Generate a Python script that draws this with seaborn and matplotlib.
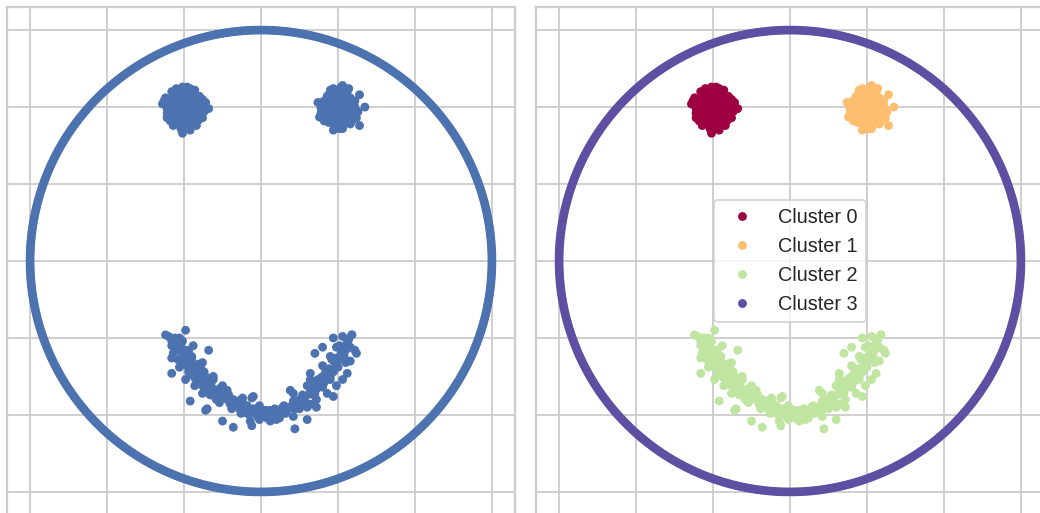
import numpy as np
import pandas as pd
import matplotlib
matplotlib.use("Agg")
import matplotlib.pyplot as plt
from matplotlib.lines import Line2D
import seaborn as sns

# ---- data -------------------------------------------------------------
# Face outline: evenly spaced points on a circle
RING_RADIUS = 1.5
RING_COUNT = 500

# Eyes (x, y)
left_eye = [
    (-0.51, 1.13), (-0.58, 1.10), (-0.46, 1.12), (-0.40, 1.07), (-0.36, 1.03),
    (-0.34, 0.99), (-0.38, 0.93), (-0.42, 0.88), (-0.46, 0.85), (-0.51, 0.83),
    (-0.57, 0.88), (-0.61, 0.93), (-0.64, 1.02), (-0.62, 1.06),
    (-0.50, 1.00), (-0.46, 1.02), (-0.54, 0.98), (-0.47, 0.96), (-0.53, 1.04),
    (-0.44, 0.98), (-0.56, 1.02), (-0.50, 1.06), (-0.50, 0.94), (-0.42, 1.04),
    (-0.58, 0.96), (-0.45, 1.08), (-0.55, 0.92), (-0.41, 0.95), (-0.59, 1.05),
    (-0.48, 0.90), (-0.52, 1.09), (-0.39, 1.00), (-0.61, 0.99), (-0.44, 0.91),
    (-0.56, 1.08), (-0.43, 1.06), (-0.57, 0.93), (-0.49, 1.03), (-0.51, 0.97),
    (-0.47, 1.10), (-0.53, 0.89), (-0.40, 1.01), (-0.60, 1.01), (-0.46, 0.93),
    (-0.48, 1.00), (-0.52, 1.01), (-0.49, 0.98), (-0.51, 1.02), (-0.55, 1.05),
    (-0.45, 0.95), (-0.54, 0.95), (-0.46, 1.05), (-0.42, 1.00), (-0.58, 1.00),
    (-0.50, 1.09), (-0.50, 0.91), (-0.43, 0.93), (-0.57, 1.07), (-0.44, 1.09),
    (-0.56, 0.90), (-0.39, 1.04), (-0.61, 0.96), (-0.53, 1.11), (-0.47, 0.87),
    (-0.41, 0.91), (-0.59, 0.91), (-0.55, 1.12), (-0.43, 1.11), (-0.49, 0.86),
    (-0.37, 0.97), (-0.63, 1.04), (-0.52, 0.86), (-0.48, 1.13), (-0.38, 1.05),
]
right_eye = [
    (0.53, 1.14), (0.48, 1.09), (0.44, 1.08), (0.58, 1.06), (0.64, 1.08),
    (0.675, 1.00), (0.64, 0.88), (0.58, 0.89), (0.47, 0.85), (0.53, 0.86),
    (0.38, 0.935), (0.40, 1.02), (0.42, 0.97), (0.62, 0.97),
    (0.50, 1.00), (0.54, 1.02), (0.46, 0.98), (0.53, 0.96), (0.47, 1.04),
    (0.56, 0.98), (0.44, 1.02), (0.50, 1.06), (0.50, 0.94), (0.58, 1.03),
    (0.42, 0.96), (0.55, 1.07), (0.45, 0.92), (0.59, 0.95), (0.41, 1.04),
    (0.52, 0.90), (0.48, 1.09), (0.61, 1.00), (0.39, 0.99), (0.56, 0.91),
    (0.44, 1.07), (0.57, 1.05), (0.43, 0.93), (0.51, 1.03), (0.49, 0.97),
    (0.53, 1.10), (0.47, 0.89), (0.60, 1.01), (0.40, 1.01), (0.54, 0.93),
    (0.52, 1.00), (0.48, 1.01), (0.51, 0.98), (0.49, 1.02), (0.45, 1.05),
    (0.55, 0.95), (0.46, 0.95), (0.54, 1.05), (0.58, 1.00), (0.42, 1.00),
    (0.50, 1.10), (0.50, 0.91), (0.57, 0.93), (0.43, 1.07), (0.56, 1.10),
    (0.44, 0.90), (0.61, 1.04), (0.39, 0.96), (0.47, 1.12), (0.53, 0.87),
    (0.59, 0.91), (0.41, 0.91), (0.45, 1.11), (0.57, 1.12), (0.51, 0.86),
    (0.63, 0.97), (0.37, 1.03), (0.48, 0.86), (0.52, 1.13), (0.62, 0.93),
]

# Mouth (x, y)
mouth = [
    (-0.62, -0.48), (-0.58, -0.55), (-0.53, -0.50), (-0.49, -0.45), (-0.51, -0.52),
    (-0.56, -0.55), (-0.58, -0.63), (-0.58, -0.73), (-0.44, -0.55), (-0.47, -0.58),
    (-0.34, -0.58), (-0.51, -0.62), (-0.45, -0.63), (-0.48, -0.68), (-0.42, -0.68),
    (-0.53, -0.69), (-0.38, -0.66), (-0.45, -0.74), (-0.49, -0.77), (-0.41, -0.77),
    (-0.36, -0.75), (-0.31, -0.75), (-0.38, -0.81), (-0.43, -0.81), (-0.32, -0.82),
    (-0.25, -0.81), (-0.22, -0.84), (-0.27, -0.87), (-0.33, -0.87), (-0.38, -0.86),
    (-0.29, -0.90), (-0.46, -0.91), (-0.25, -1.04), (-0.18, -1.08), (-0.07, -1.04),
    (-0.36, -0.97), (-0.20, -0.93), (-0.12, -0.89), (-0.05, -0.88), (-0.36, -0.81),
    (-0.31, -0.77), (-0.35, -0.96), (-0.27, -0.92), (-0.18, -0.90), (-0.12, -0.92),
    (-0.06, -0.89), (-0.05, -0.96), (-0.09, -0.99), (-0.06, -1.07), (-0.01, -0.94),
    (0.03, -0.99), (0.06, -1.04), (0.10, -0.99), (0.14, -0.95), (0.19, -0.84),
    (0.21, -1.01), (0.22, -1.09), (0.25, -0.96), (0.30, -1.03), (0.32, -0.93),
    (0.32, -0.77), (0.35, -0.86), (0.25, -0.90), (0.10, -1.03), (0.04, -1.02),
    (0.47, -0.50), (0.53, -0.49), (0.59, -0.48), (0.56, -0.53), (0.61, -0.58),
    (0.49, -0.56), (0.40, -0.56), (0.35, -0.60), (0.45, -0.62), (0.53, -0.61),
    (0.58, -0.65), (0.40, -0.68), (0.49, -0.68), (0.56, -0.73), (0.53, -0.77),
    (0.32, -0.73), (0.40, -0.75), (0.45, -0.77), (0.49, -0.81), (0.36, -0.81),
    (0.30, -0.81), (0.43, -0.86), (0.21, -0.86), (0.27, -0.89), (0.36, -0.90),
    (0.47, -0.88), (0.36, -0.95), (0.62, -0.60),
    (-0.60, -0.49), (-0.58, -0.52), (-0.56, -0.50),
    (-0.55, -0.55), (-0.53, -0.58), (-0.52, -0.54),
    (-0.50, -0.61), (-0.48, -0.63), (-0.49, -0.58),
    (-0.46, -0.66), (-0.44, -0.68), (-0.45, -0.62),
    (-0.42, -0.71), (-0.40, -0.73), (-0.41, -0.67),
    (-0.38, -0.76), (-0.36, -0.79), (-0.37, -0.72),
    (-0.33, -0.81), (-0.31, -0.84), (-0.32, -0.78),
    (-0.28, -0.86), (-0.26, -0.88), (-0.27, -0.83),
    (-0.22, -0.90), (-0.20, -0.92), (-0.21, -0.87),
    (-0.16, -0.94), (-0.14, -0.96), (-0.15, -0.91),
    (-0.10, -0.97), (-0.08, -0.99), (-0.09, -0.94),
    (-0.04, -0.99), (-0.02, -1.01), (-0.03, -0.96),
    (0.02, -1.00), (0.04, -1.02), (0.03, -0.97),
    (0.08, -0.99), (0.10, -1.01), (0.09, -0.96),
    (0.14, -0.97), (0.16, -0.99), (0.15, -0.94),
    (0.20, -0.94), (0.22, -0.96), (0.21, -0.91),
    (0.26, -0.90), (0.28, -0.92), (0.27, -0.87),
    (0.32, -0.85), (0.34, -0.87), (0.33, -0.82),
    (0.38, -0.79), (0.40, -0.82), (0.39, -0.76),
    (0.43, -0.73), (0.45, -0.75), (0.44, -0.70),
    (0.48, -0.66), (0.50, -0.69), (0.49, -0.63),
    (0.52, -0.60), (0.54, -0.62), (0.53, -0.57),
    (0.56, -0.54), (0.58, -0.56), (0.57, -0.51),
    (0.59, -0.48),
    (-0.57, -0.60), (-0.54, -0.64), (-0.51, -0.67), (-0.47, -0.72), (-0.43, -0.76),
    (-0.39, -0.70), (-0.35, -0.84), (-0.30, -0.88), (-0.24, -0.87), (-0.19, -0.96),
    (-0.13, -0.99), (-0.11, -0.94), (-0.01, -1.03), (0.00, -0.98), (0.06, -0.97),
    (0.12, -1.02), (0.18, -0.96), (0.24, -0.93), (0.29, -0.88), (0.30, -0.95),
    (0.36, -0.83), (0.37, -0.77), (0.41, -0.79), (0.42, -0.71), (0.47, -0.72),
    (0.46, -0.64), (0.51, -0.64), (0.55, -0.58), (0.55, -0.66), (0.51, -0.55),
]

cluster_names = ["Cluster 0", "Cluster 1", "Cluster 2", "Cluster 3"]
grid_ticks = [-1.5, -1.0, -0.5, 0.0, 0.5, 1.0, 1.5]
axis_limits = (-1.65, 1.65)

# ---- assemble ---------------------------------------------------------
theta = np.linspace(0, 2 * np.pi, RING_COUNT, endpoint=False)
ring = list(zip(RING_RADIUS * np.cos(theta), RING_RADIUS * np.sin(theta)))

frames = []
for name, pts in zip(cluster_names, [left_eye, right_eye, mouth, ring]):
    arr = np.asarray(pts, dtype=float)
    frames.append(pd.DataFrame({"x": arr[:, 0], "y": arr[:, 1], "cluster": name}))
df = pd.concat(frames, ignore_index=True)

# ---- style ------------------------------------------------------------
sns.set_theme(style="whitegrid")
plt.rcParams["font.family"] = ["Liberation Sans", "DejaVu Sans"]

DPI = 130
fig = plt.figure(figsize=(1040 / DPI, 513 / DPI), dpi=DPI)
W, H = 1040, 513
side = 508
ax1 = fig.add_axes([7 / W, (H - 7 - side) / H, side / W, side / H])
ax2 = fig.add_axes([536 / W, (H - 7 - side) / H, side / W, side / H])

marker_s = 24
cmap = plt.get_cmap("Spectral")
palette = {n: cmap(v) for n, v in zip(cluster_names, np.linspace(0, 1, len(cluster_names)))}

sns.scatterplot(data=df, x="x", y="y", ax=ax1, color="#4c72b0",
                s=marker_s, linewidth=0, edgecolor="none", legend=False)
sns.scatterplot(data=df, x="x", y="y", hue="cluster", hue_order=cluster_names,
                palette=palette, ax=ax2, s=marker_s, linewidth=0,
                edgecolor="none", legend=False)

handles = [Line2D([], [], marker="o", linestyle="", color=palette[n],
                  markersize=np.sqrt(marker_s), markeredgewidth=0, label=n)
           for n in cluster_names]
ax2.legend(handles=handles, loc="center", fontsize=11)

for ax in (ax1, ax2):
    ax.set_xlim(*axis_limits)
    ax.set_ylim(*axis_limits)
    ax.set_xticks(grid_ticks)
    ax.set_yticks(grid_ticks)
    ax.set_xticklabels([])
    ax.set_yticklabels([])
    ax.set_xlabel("")
    ax.set_ylabel("")

fig.savefig("out.png", dpi=DPI)
